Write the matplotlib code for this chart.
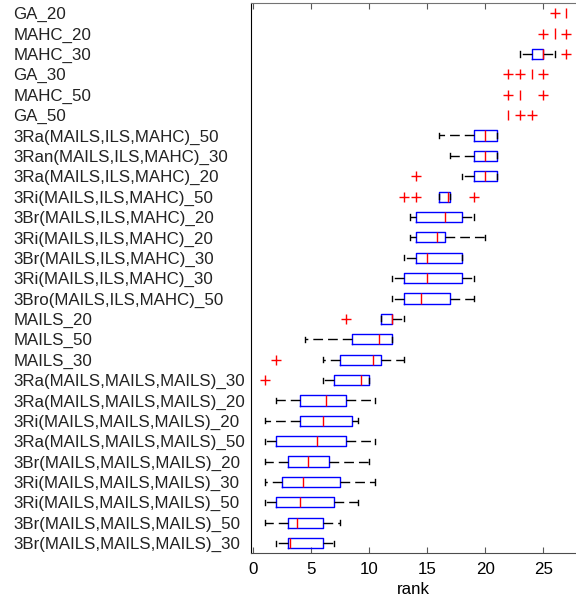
import matplotlib
matplotlib.use('Agg')
import matplotlib.pyplot as plt

# rows listed top to bottom, as in the picture
labels = ['GA_20', 'MAHC_20', 'MAHC_30', 'GA_30', 'MAHC_50', 'GA_50',
          '3Ra(MAILS,ILS,MAHC)_50', '3Ran(MAILS,ILS,MAHC)_30', '3Ra(MAILS,ILS,MAHC)_20',
          '3Ri(MAILS,ILS,MAHC)_50', '3Br(MAILS,ILS,MAHC)_20', '3Ri(MAILS,ILS,MAHC)_20',
          '3Br(MAILS,ILS,MAHC)_30', '3Ri(MAILS,ILS,MAHC)_30', '3Bro(MAILS,ILS,MAHC)_50',
          'MAILS_20', 'MAILS_50', 'MAILS_30',
          '3Ra(MAILS,MAILS,MAILS)_30', '3Ra(MAILS,MAILS,MAILS)_20', '3Ri(MAILS,MAILS,MAILS)_20',
          '3Ra(MAILS,MAILS,MAILS)_50', '3Br(MAILS,MAILS,MAILS)_20', '3Ri(MAILS,MAILS,MAILS)_30',
          '3Ri(MAILS,MAILS,MAILS)_50', '3Br(MAILS,MAILS,MAILS)_50', '3Br(MAILS,MAILS,MAILS)_30']

med = [27, 26, 25, 24, 23, 22, 20, 20, 20, 16.8, 16.5, 15.8, 15, 15, 14.5,
       12, 10.8, 10.3, 9.3, 6.25, 6, 5.5, 4.75, 4.25, 4, 3.8, 3.2]
q1 = [27, 26, 24, 24, 23, 22, 19, 19, 19, 16, 14, 14, 14, 13, 13,
      11, 8.5, 7.5, 7, 4, 4, 2, 3, 2.5, 2, 3, 3]
q3 = [27, 26, 25, 24, 23, 22, 21, 21, 21, 17, 18, 16.5, 18, 18, 17,
      12, 12, 11, 10, 8, 8.5, 8, 6.5, 7.5, 7, 6, 6]
whislo = [27, 26, 23, 24, 23, 22, 16, 17, 18, 16, 13.5, 13.5, 13, 12, 12,
          11, 4.5, 6, 6, 2, 1, 1, 1, 1, 1, 1, 2]
whishi = [27, 26, 26, 24, 23, 22, 21, 21, 21, 17, 19, 20, 18, 19, 19,
          13, 12, 13, 10, 10.5, 9, 10.5, 10, 10.5, 9, 7.5, 7]
outliers = [[26], [25, 27], [27], [22, 23, 25], [22, 25], [23, 24],
            [], [], [14], [13, 14, 19], [], [], [], [], [],
            [8], [], [2], [1], [], [], [], [], [], [], [], []]

n = len(labels)
positions = [n - i for i in range(n)]

stats = []
for i in range(n):
    stats.append({'med': med[i], 'q1': q1[i], 'q3': q3[i],
                  'whislo': whislo[i], 'whishi': whishi[i],
                  'fliers': outliers[i], 'label': labels[i]})

plt.rcParams['font.family'] = ['Liberation Sans', 'DejaVu Sans']

fig = plt.figure(figsize=(5.76, 6.02), dpi=100)
ax = fig.add_axes([250.7 / 576, 1 - 553.3 / 602, (576 - 250.7) / 576, 550.3 / 602])

bp = ax.bxp(stats, positions=positions, orientation='horizontal', widths=0.5,
            capwidths=0.25, manage_ticks=False,
            boxprops=dict(color='#0000ff', linewidth=1.0),
            medianprops=dict(color='#ff0000', linewidth=1.0, zorder=4),
            whiskerprops=dict(color='black', linewidth=1.0, linestyle=(0, (7, 3.6))),
            capprops=dict(color='black', linewidth=1.0),
            flierprops=dict(marker='+', markeredgecolor='#ff0000', markersize=7,
                            markeredgewidth=1.0, linestyle='none'))

# rows where every value but the outliers is the same: only the red median shows
for i in range(n):
    if q1[i] == q3[i] and whislo[i] == whishi[i]:
        bp['boxes'][i].set_visible(False)
        for art in bp['whiskers'][2 * i:2 * i + 2] + bp['caps'][2 * i:2 * i + 2]:
            art.set_visible(False)
        bp['medians'][i].set_solid_capstyle('butt')

ax.set_xlim(-0.224, 27.82)
ax.set_ylim(0.5, n + 0.5)
ax.set_xticks([0, 5, 10, 15, 20, 25])
ax.set_yticks(positions)
ax.set_yticklabels(labels, ha='left', fontsize=12.2, color='#222222')
ax.tick_params(axis='y', length=0, pad=171)
ax.tick_params(axis='x', direction='in', length=4, top=True, labelsize=12.2,
               color='0.35', pad=6)
ax.set_xlabel('rank', fontsize=12.2, labelpad=4)

ax.spines['right'].set_visible(False)
ax.spines['left'].set_color('black')
ax.spines['top'].set_color('0.45')
ax.spines['bottom'].set_color('0.3')

fig.savefig('out.png', dpi=100)
